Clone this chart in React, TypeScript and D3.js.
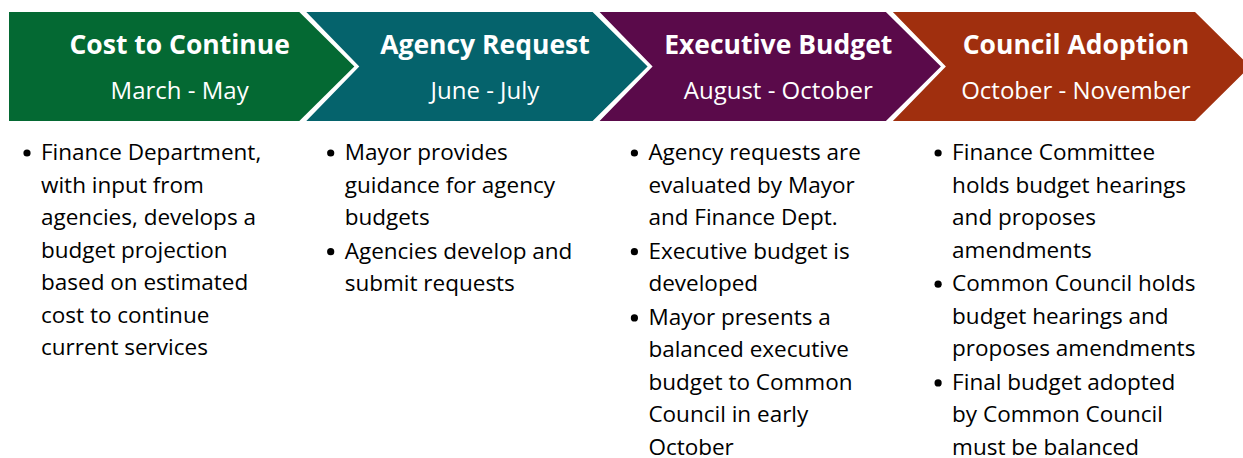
import React from "react";
import * as d3 from "d3";

const stageTitles = ["Cost to Continue", "Agency Request", "Executive Budget", "Council Adoption"];
const stagePeriods = ["March - May", "June - July", "August - October", "October - November"];
const stageColors = ["#046933", "#05636c", "#5a0a4a", "#a02f0e"];
const stageBullets: string[][][] = [
  [["Finance Department,", "with input from", "agencies, develops a", "budget projection", "based on estimated", "cost to continue", "current services"]],
  [["Mayor provides", "guidance for agency", "budgets"], ["Agencies develop and", "submit requests"]],
  [["Agency requests are", "evaluated by Mayor", "and Finance Dept."], ["Executive budget is", "developed"], ["Mayor presents a", "balanced executive", "budget to Common", "Council in early", "October"]],
  [["Finance Committee", "holds budget hearings", "and proposes", "amendments"], ["Common Council holds", "budget hearings and", "proposes amendments"], ["Final budget adopted", "by Common Council", "must be balanced"]],
];

const W = 1243;
const H = 458;
const FONT = "'Open Sans', Lato, sans-serif";

export default function App() {
  const n = stageTitles.length;
  const band = d3.scaleBand<number>().domain(d3.range(n)).range([9, 9 + 293.3 * n]).paddingInner(0).paddingOuter(0);
  const colX = d3.scaleLinear().domain([0, n - 1]).range([41, 41 + 303.7 * (n - 1)]);
  const y = d3.scaleLinear().domain([0, 1]).range([12, 121]);
  const top = y(0), bot = y(1), mid = (top + bot) / 2;
  const depth = 55;

  const shapes = stageTitles.map((_, i) => {
    const s = band(i)!;
    const left = i === 0 ? s : s + 4;
    const right = i === n - 1 ? 1195 : s + band.step() - 3;
    const tip = right + depth;
    const pts: [number, number][] = [[left, top], [right, top], [tip, mid], [right, bot], [left, bot]];
    if (i > 0) pts.push([left + depth - 2, mid]);
    const path = d3.line()(pts)! + "Z";
    const cx = (left + Math.min(tip, W)) / 2 + (i > 0 ? 8 : -2);
    return { path, cx };
  });

  const lineH = 32.5;
  const bulletGap = 1.2;
  const firstBaseline = 160;

  return (
    <svg width={W} height={H} style={{ position: "absolute", left: 0, top: 0 }}>
      <rect width={W} height={H} fill="#ffffff" />
      {shapes.map((sh, i) => (
        <g key={i}>
          <path d={sh.path} fill={stageColors[i]} />
          <text x={sh.cx} y={54} textAnchor="middle" fill="#fff" fontFamily={FONT} fontWeight={700} fontSize={26.5}>
            {stageTitles[i]}
          </text>
          <text x={sh.cx} y={98.5} textAnchor="middle" fill="#fff" fontFamily={FONT} fontSize={24}>
            {stagePeriods[i]}
          </text>
        </g>
      ))}
      {stageBullets.map((bullets, ci) => {
        let lineIdx = 0;
        const x = colX(ci);
        return (
          <g key={ci}>
            {bullets.map((lines, bi) => {
              const startIdx = lineIdx;
              lineIdx += lines.length;
              const by = firstBaseline + startIdx * lineH + bi * bulletGap;
              return (
                <g key={bi}>
                  <circle cx={x - 14} cy={by - 7} r={3.6} fill="#000" />
                  {lines.map((ln, li) => (
                    <text key={li} x={x} y={by + li * lineH} fill="#000" fontFamily={FONT} fontSize={22.5}>
                      {ln}
                    </text>
                  ))}
                </g>
              );
            })}
          </g>
        );
      })}
    </svg>
  );
}
